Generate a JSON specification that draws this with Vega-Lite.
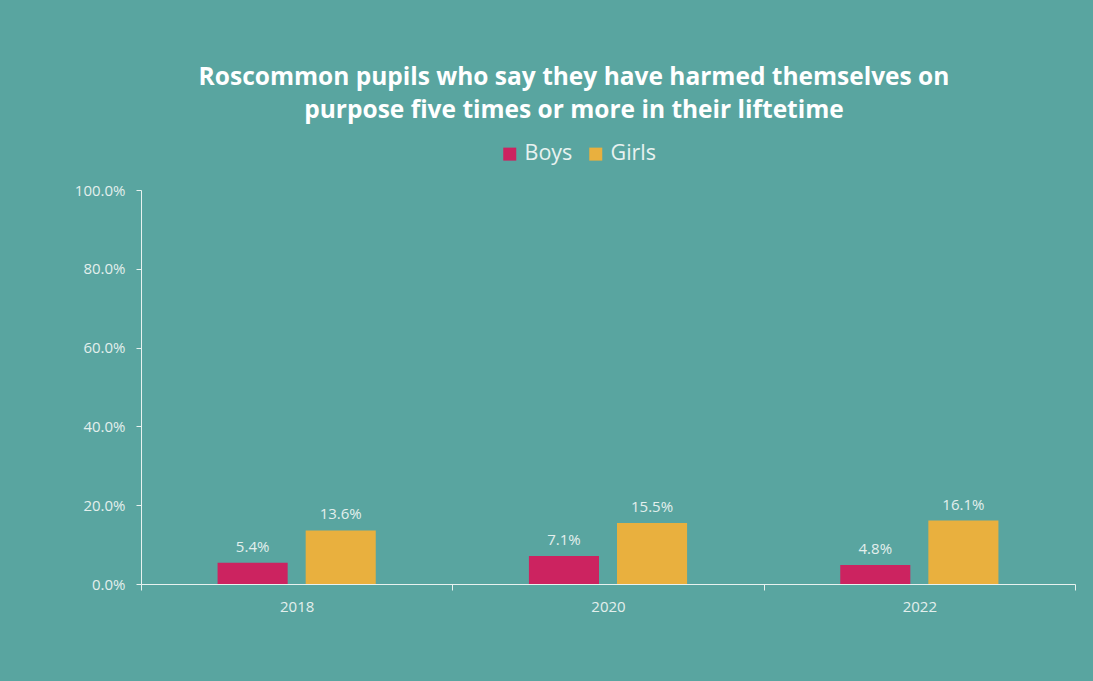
{
  "$schema": "https://vega.github.io/schema/vega-lite/v6.json",
  "width": 934,
  "height": 394,
  "autosize": {"type": "none"},
  "padding": {"left": 141, "top": 190, "right": 18, "bottom": 97},
  "background": "#59a5a0",
  "config": {
    "view": {"stroke": null},
    "font": "Open Sans"
  },
  "title": {
    "text": ["Roscommon pupils who say they have harmed themselves on", "purpose five times or more in their liftetime"],
    "font": "Open Sans",
    "fontSize": 24.5,
    "fontWeight": "bold",
    "color": "#ffffff",
    "anchor": "middle",
    "frame": "group",
    "dx": -34,
    "offset": 20,
    "lineHeight": 33
  },
  "data": {
    "values": [
      {"year": "2018", "gender": "Boys", "value": 0.054},
      {"year": "2018", "gender": "Girls", "value": 0.136},
      {"year": "2020", "gender": "Boys", "value": 0.071},
      {"year": "2020", "gender": "Girls", "value": 0.155},
      {"year": "2022", "gender": "Boys", "value": 0.048},
      {"year": "2022", "gender": "Girls", "value": 0.161}
    ]
  },
  "encoding": {
    "x": {
      "field": "year", "type": "nominal",
      "scale": {"paddingInner": 0, "paddingOuter": 0},
      "axis": {
        "title": null, "labelAngle": 0, "labelFontSize": 15, "labelColor": "#e3efed",
        "labelPadding": 9, "domainColor": "#e8f2f0", "tickColor": "#e8f2f0",
        "tickSize": 6, "tickBand": "extent", "labelFont": "Open Sans"
      }
    },
    "xOffset": {
      "field": "gender", "type": "nominal",
      "scale": {"paddingInner": 0.2045, "paddingOuter": 0.8693}
    },
    "y": {
      "field": "value", "type": "quantitative",
      "scale": {"domain": [0, 1]},
      "axis": {
        "title": null, "format": ".1%", "values": [0, 0.2, 0.4, 0.6, 0.8, 1.0],
        "grid": false, "labelFontSize": 15, "labelColor": "#e3efed",
        "domainColor": "#e8f2f0", "tickColor": "#e8f2f0", "tickSize": 5,
        "labelPadding": 11, "labelFont": "Open Sans"
      }
    }
  },
  "layer": [
    {
      "mark": {"type": "bar"},
      "encoding": {
        "color": {
          "field": "gender", "type": "nominal",
          "scale": {"domain": ["Boys", "Girls"], "range": ["#cc2360", "#e9b03e"]},
          "legend": {
            "title": null, "orient": "none", "direction": "horizontal",
            "legendX": 358, "legendY": -47,
            "symbolType": "square", "symbolSize": 169, "symbolStrokeWidth": 0,
            "symbolOpacity": 1,
            "labelFontSize": 21.5, "labelColor": "#e8f2f0", "labelFont": "Open Sans",
            "columnPadding": 12, "labelOffset": 4
          }
        }
      }
    },
    {
      "mark": {"type": "text", "baseline": "bottom", "dy": -8, "fontSize": 15, "color": "#e3efed", "font": "Open Sans"},
      "encoding": {
        "text": {"field": "value", "type": "quantitative", "format": ".1%"}
      }
    }
  ]
}
